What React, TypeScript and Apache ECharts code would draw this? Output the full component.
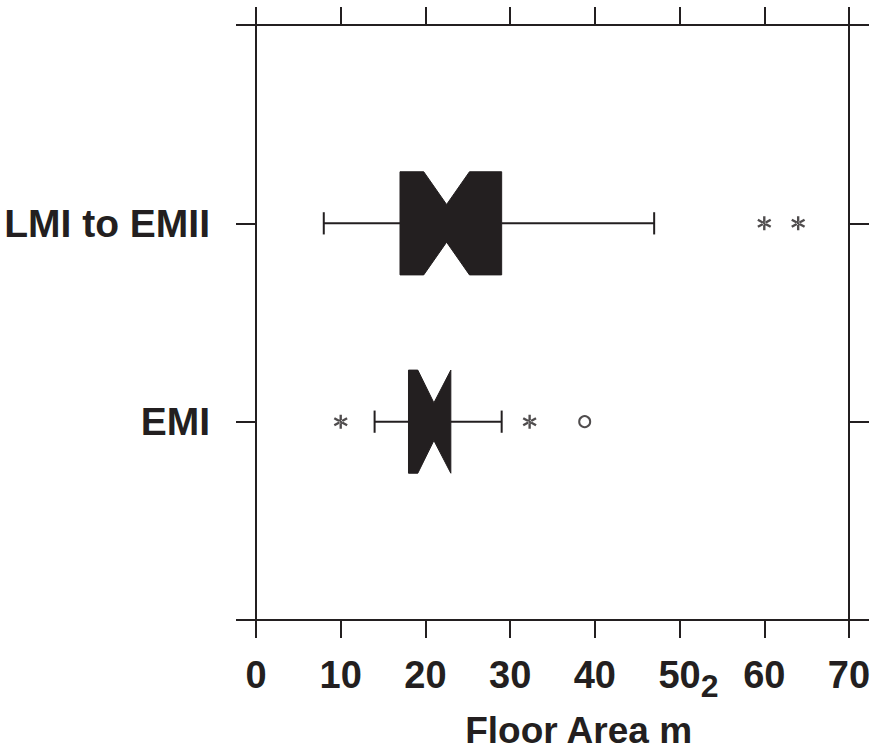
import React, { useEffect, useRef } from "react";
import * as echarts from "echarts";

// ---- data ----
const groups = ["LMI to EMII", "EMI"]; // top to bottom
// [whiskerLow, q1, notchLow, median, notchHigh, q3, whiskerHigh]
const boxStats = [
  [8, 17, 19.8, 22.5, 25.2, 29, 47],
  [14, 18, 19.1, 21, 23, 23, 29],
];
// extreme values (asterisks) and outliers (circles)
const extremeX = [60, 64, 10, 32.3];
const extremeGroup = ["LMI to EMII", "LMI to EMII", "EMI", "EMI"];
const outlierX = [38.8];
const outlierGroup = ["EMI"];
const xTicks = [0, 10, 20, 30, 40, 50, 60, 70];

const INK = "#231f20";
const FONT = "'Liberation Sans', Arial, Helvetica, sans-serif";

// y axis: padded category list so groups sit at 1/3 and 2/3
const yCats = ["", ...groups.slice().reverse(), ""];

const ASTERISK =
  "path://M42,0 L58,0 L58,100 L42,100 Z " +
  "M97.3,31.93 L89.3,18.07 L2.7,68.07 L10.7,81.93 Z " +
  "M2.7,31.93 L10.7,18.07 L97.3,68.07 L89.3,81.93 Z";

export default function App() {
  const ref = useRef<HTMLDivElement>(null);
  useEffect(() => {
    if (!ref.current) return;
    const chart = echarts.init(ref.current, null, { renderer: "svg" });

    const boxData = groups.map((g, i) => [yCats.indexOf(g), ...boxStats[i]]);

    const xAxisBase = {
      type: "value",
      min: xTicks[0],
      max: xTicks[xTicks.length - 1],
      interval: 10,
      splitLine: { show: false },
      axisLine: { show: true, onZero: false, lineStyle: { color: INK, width: 2 } },
      axisTick: { show: true, inside: false, length: 18, lineStyle: { color: INK, width: 2 } },
    };
    const yAxisBase = {
      type: "category",
      data: yCats,
      boundaryGap: false,
      splitLine: { show: false },
      axisLine: { show: true, onZero: false, lineStyle: { color: INK, width: 2 } },
      axisTick: { show: true, inside: false, length: 20, interval: 0, lineStyle: { color: INK, width: 2 } },
    };

    chart.setOption({
      animation: false,
      backgroundColor: "#ffffff",
      grid: {
        left: 256,
        right: 27,
        top: 25,
        bottom: 131,
        containLabel: false,
        outerBoundsMode: "none",
      },
      xAxis: [
        {
          ...xAxisBase,
          position: "bottom",
          axisLabel: {
            show: true,
            margin: 36,
            color: INK,
            fontFamily: FONT,
            fontWeight: "bold",
            fontSize: 38,
          },
          name: "{base|Floor Area m}{sup|2}",
          nameLocation: "middle",
          nameGap: 47,
          nameMoveOverlap: false,
          nameTextStyle: {
            padding: [0, 0, 0, 78],
            rich: {
              base: {
                fontFamily: FONT,
                fontWeight: "bold",
                fontSize: 37,
                color: INK,
                verticalAlign: "bottom",
              },
              sup: {
                fontFamily: FONT,
                fontWeight: "bold",
                fontSize: 32,
                color: INK,
                verticalAlign: "top",
                padding: [3, 0, 47, 8],
              },
            },
          },
        },
        { ...xAxisBase, position: "top", axisLabel: { show: false } },
      ],
      yAxis: [
        {
          ...yAxisBase,
          position: "left",
          axisLabel: {
            show: true,
            interval: 0,
            margin: 46,
            color: INK,
            fontFamily: FONT,
            fontWeight: "bold",
            fontSize: 39,
          },
        },
        { ...yAxisBase, position: "right", axisLabel: { show: false } },
      ],
      series: [
        {
          type: "custom",
          xAxisIndex: 0,
          yAxisIndex: 0,
          data: boxData,
          encode: { x: [1, 2, 3, 4, 5, 6, 7], y: 0 },
          renderItem: (params: any, api: any) => {
            const cat = api.value(0);
            const v = [1, 2, 3, 4, 5, 6, 7].map((d) => api.value(d));
            const [lo, q1, nl, med, nh, q3, hi] = v;
            const band = api.size([0, 1])[1];
            const h = band * 0.26;
            const hn = band * 0.095;
            const cap = band * 0.056;
            const X = (val: number) => api.coord([val, cat])[0];
            const yc = api.coord([q1, cat])[1];
            const xq1 = X(q1), xq3 = X(q3);
            const xnl = Math.max(X(nl), xq1), xnh = Math.min(X(nh), xq3);
            const xm = X(med), xlo = X(lo), xhi = X(hi);
            const lineStyle = { stroke: INK, lineWidth: 2 };
            return {
              type: "group",
              children: [
                { type: "line", shape: { x1: xlo, y1: yc, x2: xq1, y2: yc }, style: lineStyle },
                { type: "line", shape: { x1: xq3, y1: yc, x2: xhi, y2: yc }, style: lineStyle },
                { type: "line", shape: { x1: xlo, y1: yc - cap, x2: xlo, y2: yc + cap }, style: lineStyle },
                { type: "line", shape: { x1: xhi, y1: yc - cap, x2: xhi, y2: yc + cap }, style: lineStyle },
                {
                  type: "polygon",
                  shape: {
                    points: [
                      [xq1, yc - h],
                      [xnl, yc - h],
                      [xm, yc - hn],
                      [xnh, yc - h],
                      [xq3, yc - h],
                      [xq3, yc + h],
                      [xnh, yc + h],
                      [xm, yc + hn],
                      [xnl, yc + h],
                      [xq1, yc + h],
                    ],
                  },
                  style: { fill: INK, stroke: INK, lineWidth: 1 },
                },
              ],
            };
          },
        },
        {
          type: "scatter",
          xAxisIndex: 0,
          yAxisIndex: 0,
          symbol: ASTERISK,
          symbolSize: 14,
          itemStyle: { color: INK },
          data: extremeX.map((x, i) => [x, extremeGroup[i]]),
        },
        {
          type: "scatter",
          xAxisIndex: 0,
          yAxisIndex: 0,
          symbol: "circle",
          symbolSize: 11,
          itemStyle: { color: "#ffffff", borderColor: INK, borderWidth: 2 },
          data: outlierX.map((x, i) => [x, outlierGroup[i]]),
        },
      ],
    });
    return () => chart.dispose();
  }, []);
  return (
    <div
      ref={ref}
      style={{ position: "fixed", left: 0, top: 0, width: 876, height: 751, background: "#fff" }}
    />
  );
}
